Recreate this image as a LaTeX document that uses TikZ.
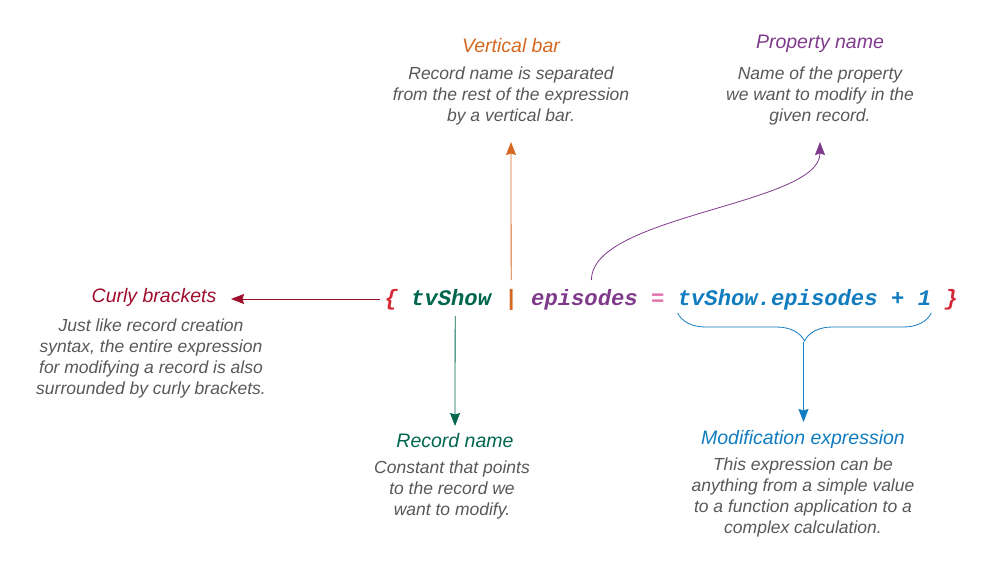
\documentclass[tikz,border=0pt]{standalone}
\usepackage{fontspec}
\setmainfont{Liberation Sans}
\newfontfamily\codefont{Liberation Mono}
\usetikzlibrary{arrows.meta,decorations.pathreplacing}
\definecolor{cred}{RGB}{212,40,55}
\definecolor{cdred}{RGB}{158,14,44}
\definecolor{cgreen}{RGB}{0,102,78}
\definecolor{corange}{RGB}{212,104,32}
\definecolor{cpurple}{RGB}{128,58,140}
\definecolor{cpink}{RGB}{226,112,168}
\definecolor{cblue}{RGB}{18,124,192}
\definecolor{cgray}{RGB}{88,88,88}
\tikzset{
  tok/.style={inner sep=0pt,anchor=base west,font=\codefont\bfseries\itshape\fontsize{22.2}{24}\selectfont},
  ttl/.style={inner sep=0pt,font=\itshape\fontsize{19.5}{22}\selectfont},
  bdy/.style={inner sep=0pt,align=center,text=cgray,font=\itshape\fontsize{17.5}{21}\selectfont},
  arr/.style={line width=0.8pt,-{Stealth[length=13pt,width=10pt,inset=1.5pt]}},
}
\begin{document}
\begin{tikzpicture}[x=1pt,y=-1pt]
\useasboundingbox (0,0) rectangle (997,573);
% code tokens
\node[tok,text=cred]    (lbr)  at (384.3,305) {\{};
\node[tok,text=cgreen]  (rec)  at (411,305) {tvShow};
\node[tok,text=corange] (bar)  at (504.3,305) {|};
\node[tok,text=cpurple] (prop) at (531,305) {episodes};
\node[tok,text=cpink]   (eq)   at (651,305) {=};
\node[tok,text=cblue]   (expr) at (677.6,305) {tvShow.episodes};
\node[tok,text=cblue]   (plus) at (890.9,305) {+};
\node[tok,text=cblue]   (one)  at (917.6,305) {1};
\node[tok,text=cred]    (rbr)  at (944.3,305) {\}};
% titles and bodies
\node[ttl,text=cdred]   (curlyT) at (154,297) {Curly brackets};
\node[bdy] (curlyB) at (151,358) {Just like record creation\\syntax, the entire expression\\for modifying a record is also\\surrounded by curly brackets.};
\node[ttl,text=corange] (barT) at (511,46) {Vertical bar};
\node[bdy] (barB) at (511,96) {Record name is separated\\from the rest of the expression\\by a vertical bar.};
\node[ttl,text=cpurple] (propT) at (820,44) {Property name};
\node[bdy] (propB) at (820,96) {Name of the property\\we want to modify in the\\given record.};
\node[ttl,text=cgreen]  (recT) at (455,441) {Record name};
\node[bdy] (recB) at (452,490) {Constant that points\\to the record we\\want to modify.};
\node[ttl,text=cblue]   (modT) at (803,439) {Modification expression};
\node[bdy] (modB) at (803,497) {This expression can be\\anything from a simple value\\to a function application to a\\complex calculation.};
% tips
\coordinate (curlyTip) at (231,299);
\coordinate (barTip) at (511,142);
\coordinate (propTip) at (820,142);
\coordinate (recTip) at (455,426);
\coordinate (modTip) at (803.5,422);
% connectors
\draw[arr,cdred] ([xshift=-4pt,yshift=6pt]lbr.base west) -- (curlyTip);
\draw[arr,corange] ([yshift=25pt]bar.base) -- (barTip);
\draw[arr,cpurple] ([xshift=7pt,yshift=25pt]prop.base) .. controls (591,215) and (820,205) .. (propTip);
\draw[arr,cgreen] ([xshift=4pt,yshift=-11pt]rec.base) -- (recTip);
\coordinate (bl) at ([yshift=-8pt]expr.base west);
\coordinate (br) at ([yshift=-8pt]one.base east);
\draw[cblue,line width=0.8pt,decorate,decoration={brace,mirror,amplitude=28pt}] (bl) -- (br);
\coordinate (bmid) at (803.5,342);
\draw[arr,cblue] (bmid) -- (modTip);
\end{tikzpicture}
\end{document}
